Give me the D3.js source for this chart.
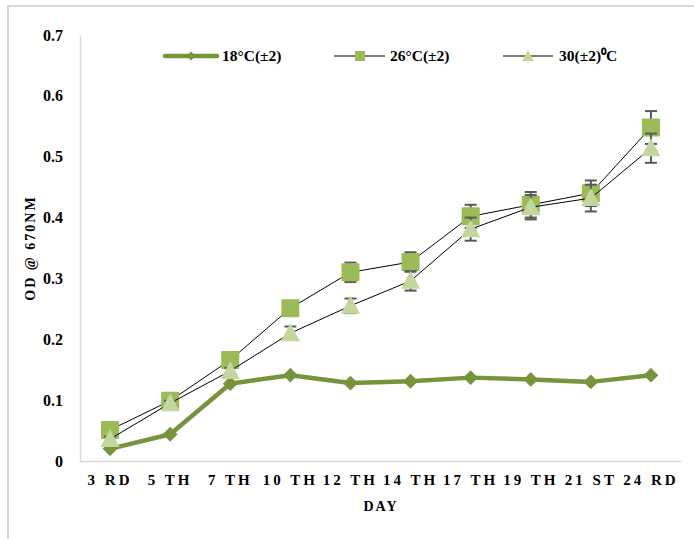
<!DOCTYPE html>
<html>
<head>
<meta charset="utf-8">
<script src="https://cdn.jsdelivr.net/npm/d3@7"></script>
<style>
  html, body { margin: 0; padding: 0; background: #fff; }
  svg { display: block; }
  text { font-family: "Liberation Serif", "Times New Roman", serif; font-weight: bold; fill: #000; }
</style>
</head>
<body>
<svg id="chart" width="694" height="539"></svg>
<script>
// Culture growth (OD at 670 nm) over days at three temperatures
const days = ["3 RD", "5 TH", "7 TH", "10 TH", "12 TH", "14 TH", "17 TH", "19 TH", "21 ST", "24 RD"];
const od18 = [0.020, 0.044, 0.127, 0.141, 0.128, 0.131, 0.137, 0.134, 0.130, 0.141];
const od26 = [0.051, 0.099, 0.166, 0.251, 0.310, 0.327, 0.402, 0.421, 0.440, 0.548];
const err26 = [0.004, 0.004, 0.005, 0.008, 0.016, 0.016, 0.019, 0.021, 0.021, 0.027];
const od30 = [0.036, 0.095, 0.148, 0.210, 0.255, 0.296, 0.381, 0.417, 0.432, 0.514];
const err30 = [0.004, 0.004, 0.005, 0.011, 0.012, 0.016, 0.019, 0.020, 0.022, 0.024];
const yTicks = [0, 0.1, 0.2, 0.3, 0.4, 0.5, 0.6, 0.7];
const legendLabels = ["18°C(±2)", "26°C(±2)", "30(±2)\u2070C"];

const svg = d3.select("#chart");

// outer chart frame
svg.append("rect")
  .attr("x", 8).attr("y", 6).attr("width", 700).attr("height", 560)
  .attr("fill", "none").attr("stroke", "#d9d9d9").attr("stroke-width", 2);

const x = d3.scaleBand().domain(days).range([80, 681]).padding(0);
const y = d3.scaleLinear().domain([0, 0.7]).range([461, 35]);
const cx = d => x(d) + x.bandwidth() / 2;

// axes
const yAxis = svg.append("g").attr("transform", "translate(80,0)")
  .call(d3.axisLeft(y).tickValues(yTicks).tickFormat(d => d === 0 ? "0" : d3.format(".1f")(d)).tickSize(0).tickPadding(17));
yAxis.select(".domain").attr("stroke", "#d9d9d9").attr("stroke-width", 1.5);
yAxis.selectAll("text").style("font-size", "16px").style("font-family", "Liberation Serif").style("font-weight", "bold");

const xAxis = svg.append("g").attr("transform", "translate(0,461)")
  .call(d3.axisBottom(x).tickSize(0).tickPadding(13));
xAxis.select(".domain").attr("stroke", "#d9d9d9").attr("stroke-width", 1.5);
xAxis.selectAll("text").style("font-size", "15px").style("font-family", "Liberation Serif")
  .style("font-weight", "bold").style("letter-spacing", "3px");

// axis titles
svg.append("text").attr("x", 381).attr("y", 511).attr("text-anchor", "middle")
  .style("font-size", "14px").style("letter-spacing", "2px").text("DAY");
svg.append("text").attr("transform", "translate(35,248) rotate(-90)").attr("text-anchor", "middle")
  .style("font-size", "14px").style("letter-spacing", "2px").text("OD @ 670NM");

const line = d3.line().x((d, i) => cx(days[i])).y(d => y(d));

const cDiamond = "#77933c", cSquare = "#9bbb59", cTri = "#c3d69b", cErr = "#595959";

// 18°C series
svg.append("path").datum(od18).attr("d", line)
  .attr("fill", "none").attr("stroke", cDiamond).attr("stroke-width", 4.5).attr("stroke-linejoin", "round");
svg.selectAll(".d18").data(od18).enter().append("path")
  .attr("transform", (d, i) => `translate(${cx(days[i])},${y(d)})`)
  .attr("d", d3.symbol(d3.symbolDiamond2, 140)).attr("fill", cDiamond);

function errorBars(vals, errs) {
  const g = svg.append("g").attr("stroke", cErr).attr("stroke-width", 2);
  vals.forEach((v, i) => {
    const px = cx(days[i]);
    const y1 = y(v + errs[i]), y2 = y(v - errs[i]);
    g.append("line").attr("x1", px).attr("x2", px).attr("y1", y1).attr("y2", y2);
    g.append("line").attr("x1", px - 6).attr("x2", px + 6).attr("y1", y1).attr("y2", y1);
    g.append("line").attr("x1", px - 6).attr("x2", px + 6).attr("y1", y2).attr("y2", y2);
  });
}

// 26°C series
svg.append("path").datum(od26).attr("d", line)
  .attr("fill", "none").attr("stroke", "#000").attr("stroke-width", 1);
errorBars(od26, err26);
svg.selectAll(".s26").data(od26).enter().append("rect")
  .attr("x", (d, i) => cx(days[i]) - 9).attr("y", d => y(d) - 9)
  .attr("width", 18).attr("height", 18).attr("rx", 1).attr("fill", cSquare);

// 30°C series
svg.append("path").datum(od30).attr("d", line)
  .attr("fill", "none").attr("stroke", "#000").attr("stroke-width", 1);
errorBars(od30, err30);
const tri = (px, py) => `M${px},${py - 10}L${px + 9.5},${py + 8}L${px - 9.5},${py + 8}Z`;
svg.selectAll(".t30").data(od30).enter().append("path")
  .attr("d", (d, i) => tri(cx(days[i]), y(d))).attr("fill", cTri);

// legend
const ly = 56;
const leg = svg.append("g");
// 18
leg.append("line").attr("x1", 165).attr("x2", 217).attr("y1", ly).attr("y2", ly)
  .attr("stroke", cDiamond).attr("stroke-width", 4.5).attr("stroke-linecap", "round");
leg.append("path").attr("transform", `translate(191,${ly})`).attr("d", d3.symbol(d3.symbolDiamond2, 50)).attr("fill", cDiamond);
leg.append("text").attr("x", 222).attr("y", ly).attr("dy", "0.35em").style("font-size", "15.5px").text(legendLabels[0]);
// 26
leg.append("line").attr("x1", 334).attr("x2", 385).attr("y1", ly).attr("y2", ly).attr("stroke", "#000").attr("stroke-width", 1);
leg.append("rect").attr("x", 355).attr("y", ly - 5).attr("width", 10).attr("height", 10).attr("fill", cSquare);
leg.append("text").attr("x", 390).attr("y", ly).attr("dy", "0.35em").style("font-size", "15.5px").text(legendLabels[1]);
// 30
leg.append("line").attr("x1", 503).attr("x2", 553).attr("y1", ly).attr("y2", ly).attr("stroke", "#000").attr("stroke-width", 1);
leg.append("path").attr("d", `M528,${ly - 6}L534,${ly + 5}L522,${ly + 5}Z`).attr("fill", cTri);
leg.append("text").attr("x", 559).attr("y", ly).attr("dy", "0.35em").style("font-size", "15.5px").text(legendLabels[2]);
</script>
</body>
</html>
